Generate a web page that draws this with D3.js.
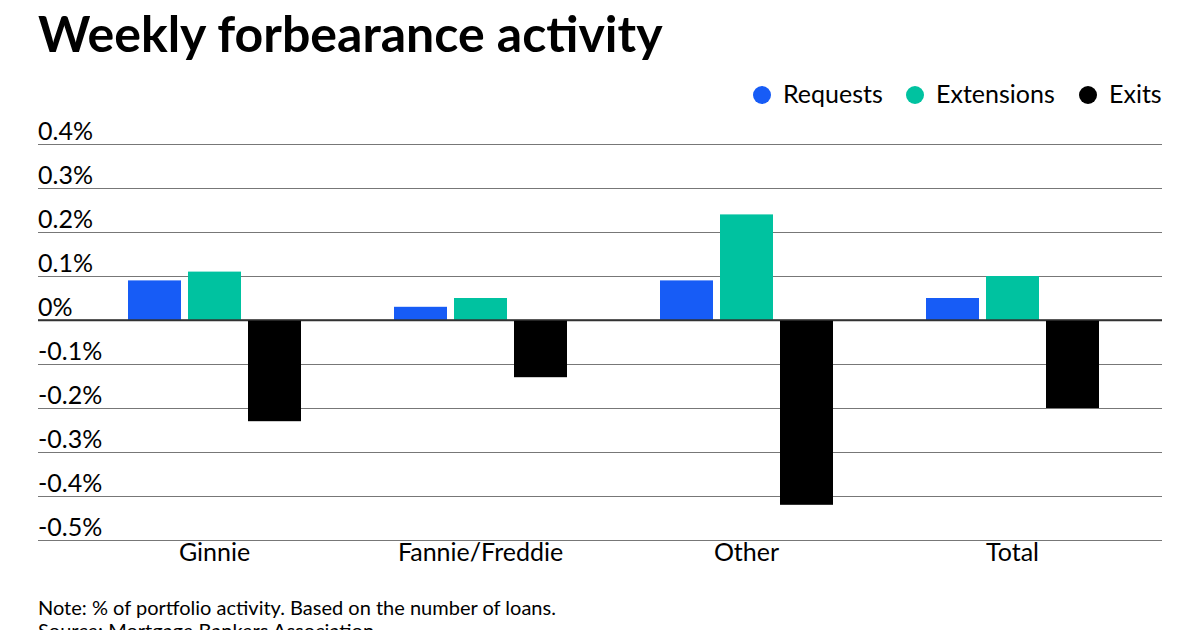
<!DOCTYPE html>
<html>
<head>
<meta charset="utf-8">
<script src="https://cdn.jsdelivr.net/npm/d3@7"></script>
<style>
  html, body { margin: 0; padding: 0; background: #fff; }
  svg { display: block; font-family: Lato, "Open Sans", sans-serif; }
</style>
</head>
<body>
<svg id="chart" width="1200" height="630"></svg>
<script>
const categories = ["Ginnie", "Fannie/Freddie", "Other", "Total"];
const seriesNames = ["Requests", "Extensions", "Exits"];
const requests   = [0.09, 0.03, 0.09, 0.05];
const extensions = [0.11, 0.05, 0.24, 0.10];
const exits      = [-0.23, -0.13, -0.42, -0.20];
const yTicks = [0.4, 0.3, 0.2, 0.1, 0, -0.1, -0.2, -0.3, -0.4, -0.5];
const tickLabels = ["0.4%", "0.3%", "0.2%", "0.1%", "0%", "-0.1%", "-0.2%", "-0.3%", "-0.4%", "-0.5%"];
const colors = ["#175cf6", "#00c2a0", "#000000"];

const seriesValues = [requests, extensions, exits];
const rows = categories.map((c, i) => ({
  category: c,
  values: seriesNames.map((s, j) => ({ series: s, value: seriesValues[j][i] }))
}));

const svg = d3.select("#chart");
const left = 38, right = 1162;

// Title
svg.append("text")
  .attr("x", 38).attr("y", 52)
  .attr("font-size", 50).attr("font-weight", 700)
  .attr("fill", "#000")
  .text("Weekly forbearance activity");

// Scales
const y = d3.scaleLinear().domain([-0.5, 0.4]).range([540, 144]);
const x0 = d3.scaleBand().domain(categories).range([81.5, 1145.5]).padding(0);
const x1 = d3.scaleBand().domain(seriesNames).range([0, 173]).paddingInner(7 / 60).paddingOuter(0);
const color = d3.scaleOrdinal().domain(seriesNames).range(colors);

// Grid lines + tick labels
const yAxis = d3.axisRight(y).tickValues(yTicks).tickSize(right - left)
  .tickFormat((d, i) => tickLabels[i]);
const gy = svg.append("g").attr("transform", `translate(${left},0)`).call(yAxis);
gy.select(".domain").remove();
gy.selectAll(".tick line")
  .attr("stroke", d => d === 0 ? "#333" : "#777")
  .attr("stroke-width", d => d === 0 ? 1.5 : 1.2);
gy.selectAll(".tick text")
  .attr("x", 0).attr("y", 0).attr("dy", -5)
  .attr("text-anchor", "start")
  .attr("font-family", "Lato, sans-serif")
  .attr("font-size", 25).attr("fill", "#000");

// Bars
const groups = svg.append("g").selectAll("g").data(rows).join("g")
  .attr("transform", d => `translate(${x0(d.category) + x0.bandwidth() / 2 - 86.5},0)`);
groups.selectAll("rect").data(d => d.values).join("rect")
  .attr("x", d => x1(d.series))
  .attr("width", x1.bandwidth())
  .attr("y", d => y(Math.max(0, d.value)))
  .attr("height", d => Math.abs(y(d.value) - y(0)))
  .attr("fill", d => color(d.series));

// Zero line on top
svg.append("line")
  .attr("x1", left).attr("x2", right)
  .attr("y1", y(0)).attr("y2", y(0))
  .attr("stroke", "#333").attr("stroke-width", 1.5);

// Category labels
const xAxis = d3.axisBottom(x0).tickSize(0).tickPadding(0);
const gx = svg.append("g").attr("transform", `translate(0,${y(-0.5)})`).call(xAxis);
gx.select(".domain").remove();
gx.selectAll(".tick text")
  .attr("y", 21).attr("dy", 0)
  .attr("font-family", "Lato, sans-serif")
  .attr("font-size", 25).attr("fill", "#000");

// Legend
const legendItems = [
  { name: "Requests", cx: 762 },
  { name: "Extensions", cx: 915 },
  { name: "Exits", cx: 1088 }
];
const lg = svg.append("g");
lg.selectAll("circle").data(legendItems).join("circle")
  .attr("cx", d => d.cx).attr("cy", 95).attr("r", 9)
  .attr("fill", d => color(d.name));
lg.selectAll("text").data(legendItems).join("text")
  .attr("x", d => d.cx + 21).attr("y", 103)
  .attr("font-size", 25).attr("fill", "#000")
  .text(d => d.name);

// Notes
svg.append("text").attr("x", 38).attr("y", 615)
  .attr("font-size", 20).attr("fill", "#000")
  .text("Note: % of portfolio activity. Based on the number of loans.");
svg.append("text").attr("x", 38).attr("y", 638)
  .attr("font-size", 20).attr("fill", "#000")
  .text("Source: Mortgage Bankers Association");
</script>
</body>
</html>
